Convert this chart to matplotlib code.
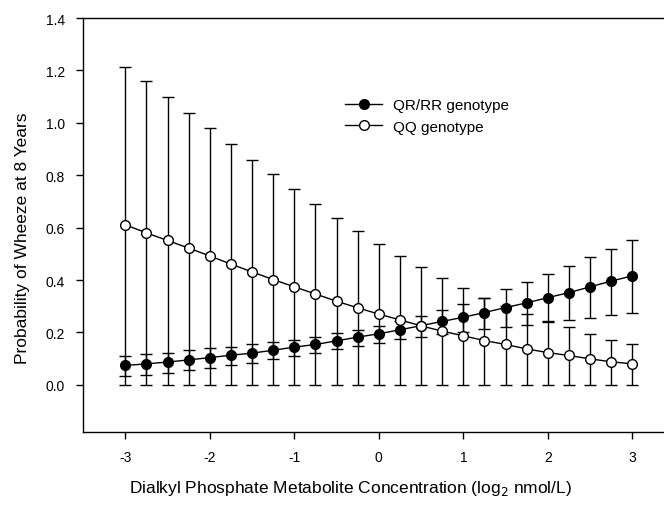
# probability of wheeze vs DAP concentration, by PON1 genotype
import numpy as np
import matplotlib
matplotlib.use('Agg')
import matplotlib.pyplot as plt

plt.rcParams['font.family'] = ['Liberation Sans', 'DejaVu Sans']

x = np.arange(-3, 3.01, 0.25)

# QR/RR genotype
qr_mean = [0.074, 0.080, 0.087, 0.095, 0.104, 0.113, 0.121, 0.132, 0.144, 0.154, 0.168, 0.182, 0.195,
           0.210, 0.226, 0.242, 0.258, 0.276, 0.295, 0.313, 0.333, 0.352, 0.374, 0.396, 0.416]
qr_upper = [0.111, 0.117, 0.123, 0.132, 0.139, 0.145, 0.154, 0.164, 0.173, 0.184, 0.196, 0.210, 0.224,
            0.243, 0.262, 0.286, 0.309, 0.333, 0.364, 0.394, 0.422, 0.455, 0.487, 0.520, 0.553]
qr_lower = [0.033, 0.039, 0.047, 0.055, 0.064, 0.075, 0.085, 0.098, 0.111, 0.123, 0.137, 0.150, 0.160,
            0.174, 0.183, 0.195, 0.203, 0.213, 0.221, 0.229, 0.239, 0.249, 0.257, 0.266, 0.275]

# QQ genotype
qq_mean = [0.611, 0.580, 0.551, 0.522, 0.492, 0.461, 0.431, 0.402, 0.374, 0.347, 0.319, 0.294, 0.270,
           0.248, 0.225, 0.205, 0.187, 0.169, 0.154, 0.137, 0.123, 0.112, 0.099, 0.088, 0.080]
qq_upper = [1.215, 1.159, 1.099, 1.039, 0.980, 0.920, 0.860, 0.803, 0.746, 0.692, 0.637, 0.586, 0.538,
            0.491, 0.448, 0.407, 0.368, 0.333, 0.300, 0.271, 0.242, 0.219, 0.195, 0.173, 0.154]
qq_lower = [0.0] * 25

qr_mean, qr_upper, qr_lower = map(np.array, (qr_mean, qr_upper, qr_lower))
qq_mean, qq_upper, qq_lower = map(np.array, (qq_mean, qq_upper, qq_lower))

fig = plt.figure(figsize=(6.64, 5.06), dpi=100)
ax = fig.add_axes([0.125, 0.1443, 0.891, 0.818])

# error bars underneath the markers
ax.errorbar(x, qr_mean, yerr=[qr_mean - qr_lower, qr_upper - qr_mean], fmt='none',
            ecolor='black', elinewidth=1, capsize=4, capthick=1, zorder=1)
ax.errorbar(x, qq_mean, yerr=[qq_mean - qq_lower, qq_upper - qq_mean], fmt='none',
            ecolor='black', elinewidth=1, capsize=4, capthick=1, zorder=1)

ax.plot(x, qr_mean, color='black', lw=1, marker='o', ms=7, mfc='black', mec='black',
        label='QR/RR genotype', zorder=3)
ax.plot(x, qq_mean, color='black', lw=1, marker='o', ms=7, mfc='white', mec='black',
        label='QQ genotype', zorder=4)

ax.set_xlim(-3.5, 3.5)
ax.set_ylim(-0.18, 1.4)
ax.set_xticks([-3, -2, -1, 0, 1, 2, 3])
ax.set_xticklabels(['-3', '-2', '-1', '0', '1', '2', '3'])
ax.set_yticks(np.arange(0, 1.41, 0.2))
ax.set_yticklabels(['{:.1f}'.format(v) for v in np.arange(0, 1.41, 0.2)])
ax.tick_params(direction='out', length=5, width=1, labelsize=10, pad=8)
ax.spines['right'].set_visible(False)
for s in ('left', 'bottom', 'top'):
    ax.spines[s].set_linewidth(1)

ax.set_xlabel('Dialkyl Phosphate Metabolite Concentration (log$_2$ nmol/L)', fontsize=12.5)
ax.set_ylabel('Probability of Wheeze at 8 Years', fontsize=12.5)
ax.xaxis.set_label_coords(0.452, -0.11)
ax.yaxis.set_label_coords(-0.09, 0.47)

ax.legend(loc='upper left', bbox_to_anchor=(0.42, 0.84), frameon=False, fontsize=11,
          handlelength=2.4, handletextpad=0.7, labelspacing=0.5)

fig.savefig('out.png', dpi=100)
